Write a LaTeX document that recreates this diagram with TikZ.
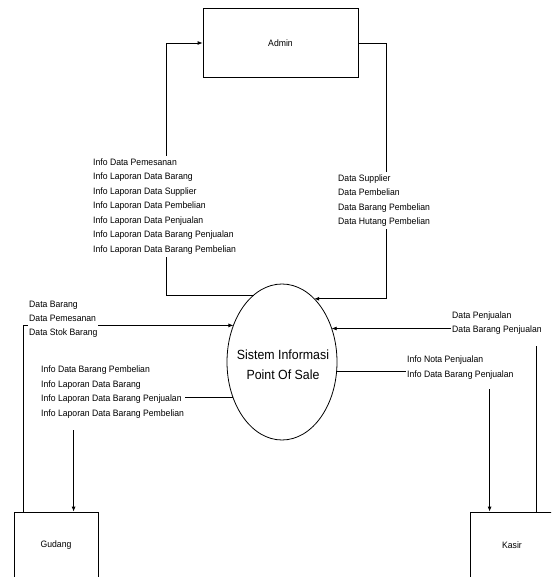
\documentclass[tikz,border=0pt]{standalone}
\usepackage{fontspec}
\setmainfont{Liberation Sans}[FakeStretch=0.93]
\usetikzlibrary{arrows.meta,shapes.geometric}
\tikzset{
  ent/.style={draw, line width=0.8pt, minimum width=84pt, minimum height=67pt, inner sep=0pt, font=\fontsize{9.3}{11}\selectfont},
  proc/.style={draw, ellipse, line width=0.8pt, minimum width=110pt, minimum height=156pt, inner sep=0pt, outer sep=0pt},
  flow/.style={line width=0.8pt, -{Latex[length=5pt,width=4pt]}},
  lbl/.style={fill=white, align=left, inner xsep=1pt, inner ysep=3pt, anchor=west, font=\fontsize{9.3}{14.5}\selectfont},
  big/.style={align=center, font=\fontsize{13.3}{20}\selectfont}
}
\begin{document}
\begin{tikzpicture}[x=1pt,y=-1pt]
\useasboundingbox (0,0) rectangle (551,577);
\clip (0,0) rectangle (551,577);
% entities and process
\node[ent, minimum width=155pt, minimum height=69pt] (admin) at (280.5,43) {Admin};
\node[proc] (sis) at (282,362) {};
\node[big] (sistxt) at (283,365) {Sistem Informasi\\Point Of Sale};
\node[ent] (gudang) at (56,545.5) {Gudang};
\node[ent] (kasir) at (512,545.5) {Kasir};
% connectors
\draw[flow] (sis.113.94) -| ([xshift=-36pt]admin.west) -- (admin.west);
\draw[flow] (admin.east) -- ++(28,0) |- (sis.63.87);
\draw[flow] ([xshift=10pt]gudang.north west) |- (sis.143.59);
\draw[flow] (sis.216.41) -| ([xshift=60pt]gudang.north west);
\draw[flow] ([xshift=67pt]kasir.north west) |- (sis.34.48);
\draw[flow] (sis.-10.40) -| ([xshift=20pt]kasir.north west);
% labels
\node[lbl] (l1) at (92,206.5) {Info Data Pemesanan\\Info Laporan Data Barang\\Info Laporan Data Supplier\\Info Laporan Data Pembelian\\Info Laporan Data Penjualan\\Info Laporan Data Barang Penjualan\\Info Laporan Data Barang Pembelian};
\node[lbl, font=\fontsize{9.3}{14.3}\selectfont] (l2) at (337,200.5) {Data Supplier\\Data Pembelian\\Data Barang Pembelian\\Data Hutang Pembelian};
\node[lbl, font=\fontsize{9.3}{14}\selectfont] (l3) at (28,319.5) {Data Barang\\Data Pemesanan\\Data Stok Barang};
\node[lbl, inner ysep=12pt] (l4) at (40,392) {Info Data Barang Pembelian\\Info Laporan Data Barang\\Info Laporan Data Barang Penjualan\\Info Laporan Data Barang Pembelian};
\node[lbl, inner ysep=12pt, font=\fontsize{9.3}{14}\selectfont] (l5) at (451,323) {Data Penjualan\\Data Barang Penjualan};
\node[lbl, inner ysep=10pt, font=\fontsize{9.3}{14.5}\selectfont] (l6) at (406,367.5) {Info Nota Penjualan\\Info Data Barang Penjualan};
\end{tikzpicture}
\end{document}
